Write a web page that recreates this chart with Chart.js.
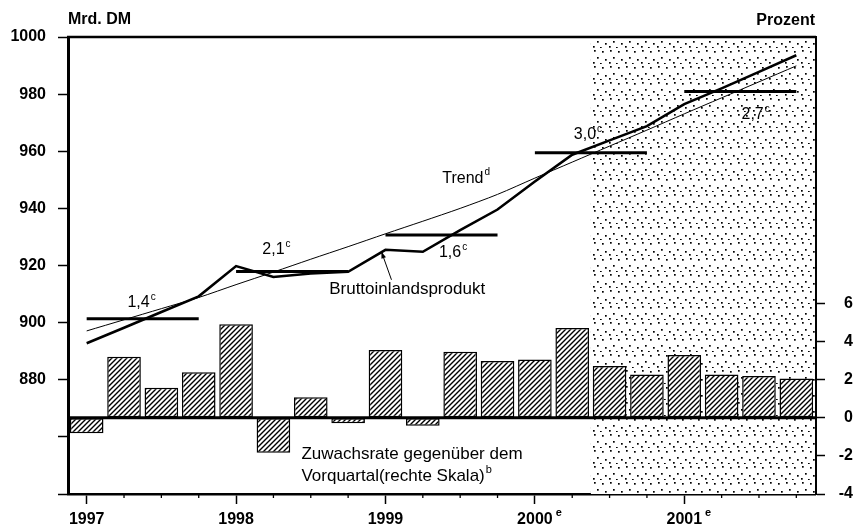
<!DOCTYPE html>
<html><head><meta charset="utf-8">
<script src="https://cdn.jsdelivr.net/npm/chart.js@4.4.0/dist/chart.umd.min.js"></script>
<style>html,body{margin:0;padding:0;background:#fff}#wrap{width:853px;height:526px}</style>
</head><body><div id="wrap"><canvas id="c" width="853" height="526"></canvas></div>
<script>
// ---- data ----
const categories = ['1997-Q1','1997-Q2','1997-Q3','1997-Q4','1998-Q1','1998-Q2','1998-Q3','1998-Q4',
  '1999-Q1','1999-Q2','1999-Q3','1999-Q4','2000-Q1','2000-Q2','2000-Q3','2000-Q4',
  '2001-Q1','2001-Q2','2001-Q3','2001-Q4'];
const yearLabels = ['1997','1998','1999','2000','2001'];
const yearSup = ['','','','e','e'];
const gdp = [892.8, 898.2, 903.7, 909.2, 919.8, 916.0, 917.2, 917.8, 925.5, 924.8, 932.4, 939.6,
  949.4, 958.8, 963.8, 968.8, 976.5, 982.0, 987.8, 993.6];
const trend = [897.1, 901.0, 904.9, 908.8, 913.3, 917.7, 922.2, 926.6, 931.1, 935.5, 940.0, 944.9,
  950.6, 956.2, 961.8, 967.4, 973.1, 978.7, 984.3, 989.9];
const growth = [-0.81, 3.21, 1.58, 2.39, 4.91, -1.83, 1.08, -0.29, 3.56, -0.41, 3.47, 2.98,
  3.07, 4.72, 2.72, 2.28, 3.30, 2.28, 2.20, 2.07];
const annualAvg = [901.4, 917.9, 930.7, 959.5, 980.9];
const annualRate = ['1,4','2,1','1,6','3,0','2,7'];
const leftTicks = [880, 900, 920, 940, 960, 980, 1000];
const rightTicks = [-4, -2, 0, 2, 4, 6];
const forecastStart = 14; // 2000-Q3

const FONT = "'Liberation Sans', Arial, Helvetica, sans-serif";
const canvas = document.getElementById('c');
const mainCtx = canvas.getContext('2d');

function makeHatch(){
  const s = 5, c = document.createElement('canvas'); c.width = c.height = s;
  const g = c.getContext('2d');
  g.fillStyle = '#fff'; g.fillRect(0,0,s,s);
  g.strokeStyle = '#000'; g.lineWidth = 1.4;
  g.beginPath();
  g.moveTo(-1, s+1); g.lineTo(s+1, -1);
  g.moveTo(-1, 1); g.lineTo(1, -1);
  g.moveTo(s-1, s+1); g.lineTo(s+1, s-1);
  g.stroke();
  return mainCtx.createPattern(c, 'repeat');
}
function makeDots(){
  const s = 16, c = document.createElement('canvas'); c.width = c.height = s;
  const g = c.getContext('2d');
  g.fillStyle = '#fff'; g.fillRect(0,0,s,s);
  g.fillStyle = '#000';
  [[2,2],[10,3],[5,9],[13,11],[1,14],[8,15]].forEach(p => g.fillRect(p[0], p[1], 1.7, 1.7));
  return mainCtx.createPattern(c, 'repeat');
}
const hatch = makeHatch();
const dots = makeDots();

function yearSpan(y){ return categories.map((c,i) => Math.floor(i/4) === y ? annualAvg[y] : null); }

function supText(ctx, main, sup, x, y, align, size, weight){
  weight = weight || 'normal';
  ctx.font = `${weight} ${size}px ${FONT}`;
  const w1 = ctx.measureText(main).width;
  ctx.font = `${weight} ${Math.round(size*0.62)}px ${FONT}`;
  const w2 = sup ? ctx.measureText(sup).width : 0;
  const total = w1 + (sup ? 1 + w2 : 0);
  let x0 = align === 'center' ? x - total/2 : align === 'right' ? x - total : x;
  ctx.textAlign = 'left'; ctx.textBaseline = 'middle'; ctx.fillStyle = '#000';
  ctx.font = `${weight} ${size}px ${FONT}`;
  ctx.fillText(main, x0, y);
  if (sup){
    ctx.font = `${weight} ${Math.round(size*0.62)}px ${FONT}`;
    ctx.fillText(sup, x0 + w1 + 1, y - size*0.38);
  }
}

const deco = {
  id: 'deco',
  beforeDatasetsDraw(chart){
    const {ctx, chartArea: a, scales: {x}} = chart;
    const half = (x.getPixelForValue(1) - x.getPixelForValue(0)) / 2;
    const x0 = x.getPixelForValue(forecastStart) - half;
    ctx.save();
    ctx.fillStyle = dots;
    ctx.fillRect(x0, a.top, a.right - x0, a.bottom - a.top);
    ctx.restore();
  },
  afterDatasetsDraw(chart){
    const {ctx, chartArea: a, scales: {x, y, y2}} = chart;
    ctx.save();
    // zero line
    const z = y2.getPixelForValue(0);
    ctx.strokeStyle = '#000'; ctx.lineWidth = 3;
    ctx.beginPath(); ctx.moveTo(a.left, z); ctx.lineTo(a.right, z); ctx.stroke();
    // top border
    ctx.lineWidth = 2.5;
    ctx.beginPath(); ctx.moveTo(a.left - 1, a.top); ctx.lineTo(a.right + 1, a.top); ctx.stroke();
    // quarter ticks on x axis
    ctx.lineWidth = 1.3;
    categories.forEach((c,i) => {
      if (i % 4 === 0) return;
      const px = x.getPixelForValue(i);
      ctx.beginPath(); ctx.moveTo(px, a.bottom); ctx.lineTo(px, a.bottom + 4); ctx.stroke();
    });
    // superscript e on year labels
    yearLabels.forEach((lab, k) => {
      if (!yearSup[k]) return;
      ctx.font = `bold 16px ${FONT}`;
      const w = ctx.measureText(lab).width;
      const px = x.getPixelForValue(k*4);
      ctx.font = `bold 11px ${FONT}`;
      ctx.textAlign = 'left'; ctx.textBaseline = 'middle'; ctx.fillStyle = '#000';
      ctx.fillText(yearSup[k], px + w/2 + 3, a.bottom + 19);
    });
    // axis titles
    ctx.font = `bold 16px ${FONT}`; ctx.fillStyle = '#000'; ctx.textBaseline = 'middle';
    ctx.textAlign = 'left'; ctx.fillText('Mrd. DM', a.left, 20);
    ctx.textAlign = 'right'; ctx.fillText('Prozent', a.right, 21);
    // annual rate labels
    const ratePos = [[1.47, 906.9], [5.08, 925.4], [9.81, 924.4], [13.42, 965.7], [17.91, 972.7]];
    annualRate.forEach((r, k) => {
      supText(ctx, r, 'c', x.getPixelForValue(ratePos[k][0]), y.getPixelForValue(ratePos[k][1]), 'center', 16);
    });
    supText(ctx, 'Trend', 'd', x.getPixelForValue(10.16), y.getPixelForValue(950.6), 'center', 16);
    supText(ctx, 'Bruttoinlandsprodukt', '', x.getPixelForValue(8.58), y.getPixelForValue(911.8), 'center', 17);
    const lx = x.getPixelForValue(5.75);
    supText(ctx, 'Zuwachsrate gegenüber dem', '', lx, y2.getPixelForValue(-1.9), 'left', 17);
    supText(ctx, 'Vorquartal(rechte Skala)', 'b', lx, y2.getPixelForValue(-3.06), 'left', 17);
    // arrow to GDP line
    const tx = x.getPixelForValue(8) - 4, ty = y.getPixelForValue(gdp[8]) + 2;
    const sx = tx + 10, sy = ty + 28;
    ctx.lineWidth = 1; ctx.strokeStyle = '#000';
    ctx.beginPath(); ctx.moveTo(sx, sy); ctx.lineTo(tx, ty); ctx.stroke();
    const ang = Math.atan2(ty - sy, tx - sx);
    ctx.beginPath();
    ctx.moveTo(tx, ty);
    ctx.lineTo(tx - 7*Math.cos(ang - 0.35), ty - 7*Math.sin(ang - 0.35));
    ctx.lineTo(tx - 7*Math.cos(ang + 0.35), ty - 7*Math.sin(ang + 0.35));
    ctx.closePath(); ctx.fillStyle = '#000'; ctx.fill();
    ctx.restore();
  }
};

const datasets = [
  { type: 'line', label: 'Bruttoinlandsprodukt', data: gdp, yAxisID: 'y', borderColor: '#000',
    borderWidth: 2.6, pointRadius: 0, tension: 0, order: 1 },
  { type: 'line', label: 'Trend', data: trend, yAxisID: 'y', borderColor: '#000',
    borderWidth: 1, pointRadius: 0, tension: 0.3, order: 2 },
  ...annualAvg.map((v, k) => ({ type: 'line', label: 'Jahresdurchschnitt ' + yearLabels[k], data: yearSpan(k),
    yAxisID: 'y', borderColor: '#000', borderWidth: 3, pointRadius: 0, borderCapStyle: 'butt', order: 3 })),
  { type: 'bar', label: 'Zuwachsrate', data: growth, yAxisID: 'y2', backgroundColor: hatch,
    borderColor: '#000', borderWidth: 1.5, borderSkipped: false, categoryPercentage: 1, barPercentage: 0.9, order: 10 }
];

new Chart(canvas, {
  data: { labels: categories, datasets },
  options: {
    responsive: false, animation: false, events: [],
    layout: { padding: { top: 37, left: 0, right: 0, bottom: 0 } },
    plugins: { legend: { display: false }, tooltip: { enabled: false } },
    scales: {
      x: {
        type: 'category', offset: true,
        grid: { offset: false, drawOnChartArea: false, tickLength: 10, tickWidth: 1.5,
          tickColor: c => (c.index % 4 === 0 ? '#000' : 'rgba(0,0,0,0)') },
        border: { color: '#000', width: 2.5 },
        ticks: { autoSkip: false, maxRotation: 0, padding: 6, color: '#000',
          font: { family: FONT, size: 16, weight: 'bold' },
          callback: (v, i) => (i % 4 === 0 ? yearLabels[i/4] : '') },
        afterFit: s => { s.height = 32; }
      },
      y: {
        position: 'left', min: 840, max: 1000,
        grid: { drawOnChartArea: false, tickLength: 10, tickWidth: 1.5, tickColor: '#000' },
        border: { color: '#000', width: 3 },
        ticks: { stepSize: 20, padding: 12, color: '#000', font: { family: FONT, size: 16, weight: 'bold' },
          callback: v => (leftTicks.includes(v) ? String(v) : '') },
        afterFit: s => { s.width = 68; }
      },
      y2: {
        position: 'right', min: -4, max: 20,
        grid: { drawOnChartArea: false, tickLength: 10, tickWidth: 1.5,
          tickColor: c => (rightTicks.includes(c.tick.value) ? '#000' : 'rgba(0,0,0,0)') },
        border: { color: '#000', width: 3 },
        ticks: { stepSize: 2, padding: 6, crossAlign: 'far', color: '#000',
          font: { family: FONT, size: 16, weight: 'bold' },
          callback: v => (rightTicks.includes(v) ? String(v) : '') },
        afterFit: s => { s.width = 38; }
      }
    }
  },
  plugins: [deco]
});
</script>
</body></html>
